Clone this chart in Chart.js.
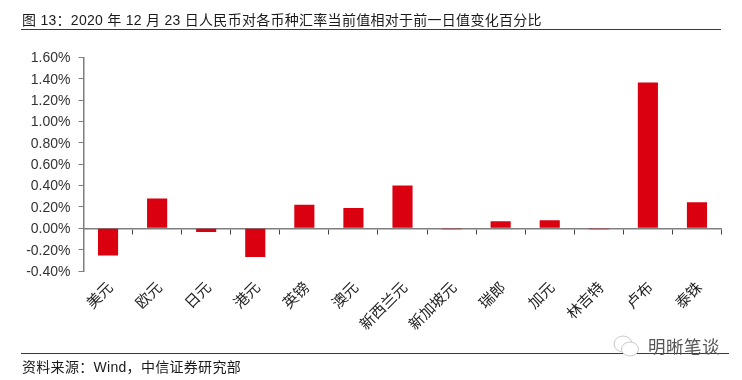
<!DOCTYPE html>
<html><head><meta charset="utf-8">
<script src="https://cdn.jsdelivr.net/npm/chart.js@4"></script>
<style>
html,body{margin:0;padding:0;background:#fff;width:742px;height:380px;overflow:hidden}
#wrap{position:relative;width:742px;height:380px}
canvas{position:absolute;left:0;top:0}
.t{position:absolute;white-space:nowrap;color:#1a1a1a;font-family:"Liberation Sans","Noto Sans CJK SC",sans-serif}
.r{position:absolute;background:#c00000;height:1px}
</style></head><body>
<div id="wrap">
<canvas id="c" width="742" height="380"></canvas>
<div class="t" id="title" style="left:22px;top:11.5px;font-size:14px;line-height:16px;letter-spacing:.28px">图 13：2020 年 12 月 23 日人民币对各币种汇率当前值相对于前一日值变化百分比</div>
<div class="r" style="left:21px;top:29px;width:700px"></div>
<div class="r" style="left:21px;top:353px;width:708px"></div>
<div class="t" style="left:22px;top:359px;font-size:14px;line-height:16px;letter-spacing:.3px">资料来源：Wind，中信证券研究部</div>
<svg style="position:absolute;left:612px;top:334px" width="30" height="26" viewBox="0 0 30 26" fill="none" stroke="#c9c9c9" stroke-width="1"><ellipse cx="11" cy="10" rx="9" ry="8"/><ellipse cx="18" cy="15" rx="8.5" ry="7" fill="#fff"/></svg>
<div class="t" style="left:648px;top:337px;font-size:17.5px;line-height:20px;letter-spacing:.5px;color:#555">明晰笔谈</div>
</div>
<script>
const categories=["美元","欧元","日元","港元","英镑","澳元","新西兰元","新加坡元","瑞郎","加元","林吉特","卢布","泰铢"];
const values=[-0.255,0.28,-0.035,-0.27,0.22,0.19,0.40,-0.01,0.065,0.075,-0.01,1.365,0.245];
const font="'Liberation Sans','Noto Sans CJK SC',sans-serif";
const axisColor="#7f7f7f";
new Chart(document.getElementById('c'),{
 type:'bar',
 data:{labels:categories,datasets:[{data:values,backgroundColor:'#da0010',barPercentage:0.41,categoryPercentage:1,xAxisID:'x',yAxisID:'y'}]},
 options:{
  responsive:false,animation:false,devicePixelRatio:1,
  layout:{padding:{left:0,right:20.5,top:57.5,bottom:0}},
  plugins:{legend:{display:false},tooltip:{enabled:false},title:{display:false}},
  scales:{
   y:{min:-0.4,max:1.6,position:'left',
      afterFit(s){s.width=83.5},
      ticks:{stepSize:0.2,color:'#333',font:{family:font,size:14},padding:8,labelOffset:1,callback:v=>v.toFixed(2)+'%'},
      grid:{drawOnChartArea:false,drawTicks:true,tickLength:5,color:axisColor},
      border:{color:axisColor,width:1.5}},
   x:{type:'category',position:{y:0},
      grid:{drawOnChartArea:false,drawTicks:true,tickLength:5,color:'#444',offset:true},
      ticks:{display:false},
      border:{color:axisColor,width:1.5}},
   x2:{type:'category',position:'bottom',labels:categories,
      afterFit(s){s.height=109},
      grid:{display:false,drawTicks:false},border:{display:false},
      ticks:{color:'#222',font:{family:font,size:15},minRotation:45,maxRotation:45,padding:8,labelOffset:3,autoSkip:false}}
  }
 }
});
</script>
</body></html>
